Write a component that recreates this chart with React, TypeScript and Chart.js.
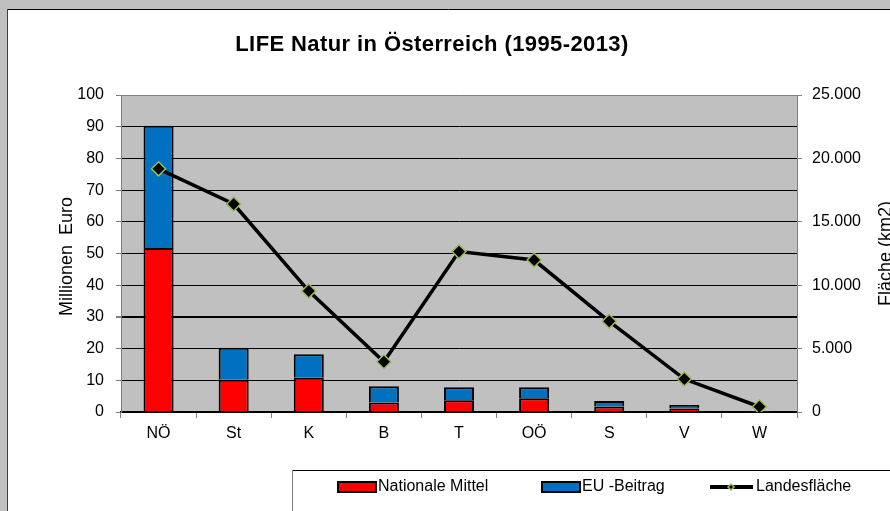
import React, { useEffect, useRef } from "react";
import { Chart, registerables } from "chart.js";

Chart.register(...registerables);

const categories = ["NÖ", "St", "K", "B", "T", "OÖ", "S", "V", "W"];
const nationaleMittel = [51.7, 10.2, 10.8, 3.0, 3.7, 4.3, 1.7, 1.1, 0.15];
const euBeitrag = [38.6, 10.1, 7.4, 5.1, 4.1, 3.5, 1.8, 1.1, 0.15];
const landesflaeche = [19178, 16401, 9536, 3965, 12648, 11983, 7154, 2601, 415];

const titleText = "LIFE Natur in Österreich (1995-2013)";
const leftAxisTitle = "Millionen  Euro";
const rightAxisTitle = "Fläche (km2)";
const legendLabels = ["Nationale Mittel", "EU -Beitrag", "Landesfläche"];

const FONT = "Arial, 'Liberation Sans', sans-serif";
const RED = "#ff0000";
const BLUE = "#0070c0";
const GREEN = "#9bbb59";

function fmtThousands(v: number): string {
  return String(Math.round(v)).replace(/\B(?=(\d{3})+(?!\d))/g, ".");
}

function drawDiamond(ctx: CanvasRenderingContext2D, x: number, y: number, r: number) {
  ctx.beginPath();
  ctx.moveTo(x, y - r);
  ctx.lineTo(x + r, y);
  ctx.lineTo(x, y + r);
  ctx.lineTo(x - r, y);
  ctx.closePath();
  ctx.fillStyle = "#000";
  ctx.fill();
  ctx.strokeStyle = GREEN;
  ctx.lineWidth = 1.5;
  ctx.stroke();
}

const decorPlugin = {
  id: "decor",
  beforeDraw(chart: any) {
    const ctx: CanvasRenderingContext2D = chart.ctx;
    const { width, height } = chart;
    const ca = chart.chartArea;
    ctx.save();
    ctx.fillStyle = "#c0c0c0";
    ctx.fillRect(0, 0, width, height);
    ctx.fillStyle = "#ffffff";
    ctx.fillRect(7, 9, width - 7, height - 9);
    ctx.strokeStyle = "#000";
    ctx.lineWidth = 1;
    ctx.beginPath();
    ctx.moveTo(7, 9.5);
    ctx.lineTo(width, 9.5);
    ctx.stroke();
    ctx.strokeStyle = "#404040";
    ctx.beginPath();
    ctx.moveTo(7.5, 9);
    ctx.lineTo(7.5, height);
    ctx.stroke();
    ctx.fillStyle = "#c0c0c0";
    ctx.fillRect(ca.left, ca.top, ca.right - ca.left, ca.bottom - ca.top);
    ctx.restore();
  },
  afterDraw(chart: any) {
    const ctx: CanvasRenderingContext2D = chart.ctx;
    const ca = chart.chartArea;
    ctx.save();
    // title
    ctx.fillStyle = "#000";
    ctx.font = `bold 22px ${FONT}`;
    (ctx as any).letterSpacing = "0.4px";
    ctx.textAlign = "center";
    ctx.textBaseline = "middle";
    ctx.fillText(titleText, 432, 45);
    (ctx as any).letterSpacing = "0px";
    // left axis title
    ctx.font = `18px ${FONT}`;
    ctx.save();
    ctx.translate(67, (ca.top + ca.bottom) / 2 + 3);
    ctx.rotate(-Math.PI / 2);
    ctx.fillText(leftAxisTitle, 0, 0);
    ctx.restore();
    // right axis title
    ctx.save();
    ctx.translate(886, (ca.top + ca.bottom) / 2);
    ctx.rotate(-Math.PI / 2);
    ctx.fillText(rightAxisTitle, 0, 0);
    ctx.restore();
    // legend box
    ctx.strokeStyle = "#000";
    ctx.lineWidth = 1;
    ctx.beginPath();
    ctx.moveTo(292, 470.5);
    ctx.lineTo(chart.width, 470.5);
    ctx.stroke();
    ctx.strokeStyle = "#808080";
    ctx.beginPath();
    ctx.moveTo(292.5, 470);
    ctx.lineTo(292.5, chart.height);
    ctx.stroke();
    ctx.font = `16px ${FONT}`;
    ctx.textAlign = "left";
    ctx.textBaseline = "middle";
    const ly = 487;
    // red swatch
    ctx.fillStyle = RED;
    ctx.fillRect(338, 482, 38, 10);
    ctx.strokeStyle = "#000";
    ctx.lineWidth = 2;
    ctx.strokeRect(338, 482, 38, 10);
    ctx.fillStyle = "#000";
    ctx.fillText(legendLabels[0], 378, ly);
    // blue swatch
    ctx.fillStyle = BLUE;
    ctx.fillRect(542, 482, 38, 10);
    ctx.strokeRect(542, 482, 38, 10);
    ctx.fillStyle = "#000";
    ctx.fillText(legendLabels[1], 582, ly);
    // line sample
    ctx.strokeStyle = "#000";
    ctx.lineWidth = 4;
    ctx.beginPath();
    ctx.moveTo(710, ly);
    ctx.lineTo(753, ly);
    ctx.stroke();
    drawDiamond(ctx, 731, ly, 3);
    ctx.fillStyle = "#000";
    ctx.fillText(legendLabels[2], 756, ly);
    ctx.restore();
  },
};

export default function App() {
  const ref = useRef<HTMLCanvasElement | null>(null);
  useEffect(() => {
    const canvas = ref.current;
    if (!canvas) return;
    const chart = new Chart(canvas, {
      type: "bar",
      data: {
        labels: categories,
        datasets: [
          {
            type: "line",
            label: legendLabels[2],
            data: landesflaeche,
            yAxisID: "y1",
            borderColor: "#000",
            borderWidth: 3.5,
            pointStyle: "rectRot",
            pointRadius: 7,
            pointBackgroundColor: "#000",
            pointBorderColor: GREEN,
            pointBorderWidth: 1.5,
            tension: 0,
            order: 0,
          } as any,
          {
            label: legendLabels[0],
            data: nationaleMittel,
            backgroundColor: RED,
            borderColor: "#000",
            borderWidth: 2,
            yAxisID: "y",
            stack: "s",
            order: 1,
            barPercentage: 0.8,
            categoryPercentage: 0.5,
          },
          {
            label: legendLabels[1],
            data: euBeitrag,
            backgroundColor: BLUE,
            borderColor: "#000",
            borderWidth: 2,
            yAxisID: "y",
            stack: "s",
            order: 1,
            barPercentage: 0.8,
            categoryPercentage: 0.5,
          },
        ],
      },
      options: {
        animation: false,
        responsive: false,
        devicePixelRatio: 1,
        layout: { padding: { top: 95, left: 0, right: 0, bottom: 0 } },
        plugins: {
          legend: { display: false },
          title: { display: false },
          tooltip: { enabled: false },
        },
        scales: {
          x: {
            stacked: true,
            offset: true,
            grid: {
              offset: true,
              drawOnChartArea: false,
              tickLength: 6,
              tickColor: "#808080",
              color: "#808080",
            },
            border: { color: "#000", width: 1.5 },
            ticks: {
              color: "#000",
              font: { family: FONT, size: 16 },
              padding: 6,
              maxRotation: 0,
            },
            afterFit: (s: any) => {
              s.height = 99;
            },
          },
          y: {
            position: "left",
            stacked: true,
            min: 0,
            max: 100,
            ticks: {
              stepSize: 10,
              color: "#000",
              font: { family: FONT, size: 16 },
              padding: 12,
            },
            grid: {
              color: (c: any) => (c.tick && c.tick.value === 100 ? "#808080" : "#000"),
              lineWidth: (c: any) => (c.tick && c.tick.value === 30 ? 2 : 1),
              tickLength: 5,
              tickColor: "#808080",
            },
            border: { color: "#808080", width: 1 },
            afterFit: (s: any) => {
              s.width = 121;
            },
          },
          y1: {
            position: "right",
            min: 0,
            max: 25000,
            ticks: {
              stepSize: 5000,
              color: "#000",
              font: { family: FONT, size: 16 },
              padding: 10,
              callback: (v: any) => fmtThousands(Number(v)),
            },
            grid: {
              drawOnChartArea: false,
              tickLength: 5,
              tickColor: "#808080",
            },
            border: { color: "#808080", width: 1 },
            afterFit: (s: any) => {
              s.width = 93;
            },
          },
        },
      },
      plugins: [decorPlugin],
    });
    return () => chart.destroy();
  }, []);
  return (
    <div style={{ position: "absolute", left: 0, top: 0, width: 890, height: 511 }}>
      <canvas ref={ref} width={890} height={511} style={{ width: 890, height: 511, display: "block" }} />
    </div>
  );
}
